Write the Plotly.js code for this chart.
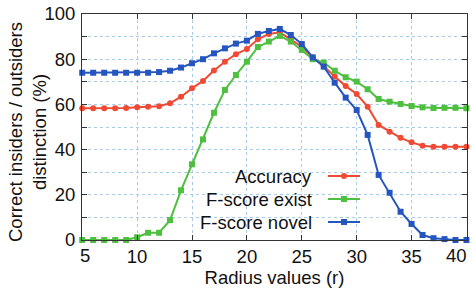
<!DOCTYPE html>
<html><head><meta charset="utf-8">
<script src="https://cdn.plot.ly/plotly-3.0.1.min.js"></script>
<style>html,body{margin:0;padding:0;background:#fff}#c{width:472px;height:293px}</style>
</head><body><div id="c"></div>
<script>
const radius = [5,6,7,8,9,10,11,12,13,14,15,16,17,18,19,20,21,22,23,24,25,26,27,28,29,30,31,32,33,34,35,36,37,38,39,40];
const accuracy = [58.3,58.3,58.3,58.3,58.4,58.7,59,59.2,60.5,63.4,67.1,70.4,75,78.9,82.2,84.5,88.8,91.2,91.9,88.8,85.5,80.8,77,72.3,68.1,64.6,59,50.9,47.9,45.2,43.2,41.7,41.3,41.3,41.3,41.3];
const fscoreExist = [0,0,0,0,0,1.2,3.2,3.2,8.8,22,33.5,44.5,56.3,66.4,73,78.9,85.4,87.8,90.3,87.8,84.1,80,78.5,74.9,72,70.1,66.7,62.4,61.2,60.2,59.3,58.7,58.4,58.5,58.5,58.3];
const fscoreNovel = [74,74,74,74,74,74,74,74.3,74.9,76.3,78.2,80,82.6,84.8,86.9,88.2,91.2,92.5,93.4,90.7,86.7,80.8,76.7,69.6,63,57.5,46.5,28.8,20.9,12.5,7.1,2.2,0.8,0.4,0,0];
const seriesNames = ["Accuracy","F-score exist","F-score novel"];
const xTicks = [5,10,15,20,25,30,35,40];
const xTickLabels = ["5","10","15","20","25","30","35","40"];
const yTicks = [0,20,40,60,80,100];
const xTitle = "Radius values (r)";
const yTitle = "Correct insiders / outsiders<br>distinction (%)";

const colors = ["#f04a35","#4fbf3f","#2556c0"];
const symbols = ["circle","square","square"];
const ys = [accuracy, fscoreExist, fscoreNovel];
const traces = ys.map((y,i)=>({
  x: radius, y: y, type: "scatter", mode: "lines+markers", name: seriesNames[i],
  line: {color: colors[i], width: 2},
  marker: {color: colors[i], symbol: symbols[i], size: 6},
  cliponaxis: false, showlegend: false
}));

const font = {family: "Liberation Sans, Arial, sans-serif", size: 18.5, color: "#111"};
const axisCommon = {
  showline: true, linecolor: "#333", linewidth: 1, mirror: "ticks",
  ticks: "inside", ticklen: 5, tickcolor: "#333",
  showgrid: true, gridcolor: "#a9cbe3", griddash: "dot", gridwidth: 1,
  zeroline: false, tickfont: font
};

const L = 82, R = 5, T = 14, B = 53, W = 472, H = 293;
const pw = W - L - R, ph = H - T - B;
const px = v => (v - L) / pw;
const py = v => (H - B - v) / ph;

// x tick labels: inner ones by the axis, the two end ones nudged inward as in the reference
const endShift = {0: 3, 7: -10};
const shownTickText = xTickLabels.map((t,i)=> (i in endShift) ? "" : t);
const annotations = [];
Object.keys(endShift).forEach(k=>{
  const i = +k;
  annotations.push({xref: "x", yref: "paper", x: xTicks[i], y: py(255), xanchor: "center", yanchor: "middle",
    xshift: endShift[i], text: xTickLabels[i], showarrow: false, font: font});
});

// manual legend (text right-aligned, sample to the right)
const legRows = [py(176), py(199), py(222)];
seriesNames.forEach((n,i)=>annotations.push({
  xref: "paper", yref: "paper", x: px(314), y: legRows[i], xanchor: "right", yanchor: "middle",
  text: n, showarrow: false, font: font
}));
annotations.push({
  xref: "paper", yref: "paper", x: px(27.5), y: py(132.5), xanchor: "center", yanchor: "middle",
  text: yTitle, textangle: -90, showarrow: false, font: font, align: "center"
});
const shapes = [];
legRows.forEach((yy,i)=>{
  shapes.push({type: "line", xref: "paper", yref: "paper", x0: px(328), x1: px(360), y0: yy, y1: yy,
    line: {color: colors[i], width: 2}});
  shapes.push({type: symbols[i]==="circle" ? "circle" : "rect", xref: "paper", yref: "paper",
    xsizemode: "pixel", ysizemode: "pixel", xanchor: px(344), yanchor: yy,
    x0: -3, x1: 3, y0: -3, y1: 3, fillcolor: colors[i], line: {width: 0}});
});

const layout = {
  width: W, height: H,
  margin: {l: L, r: R, t: T, b: B},
  paper_bgcolor: "#fff", plot_bgcolor: "#fff",
  font: font,
  xaxis: Object.assign({}, axisCommon, {
    range: [4.98, 40.05], tickvals: xTicks, ticktext: shownTickText,
    title: {text: xTitle, font: font, standoff: 4}
  }),
  yaxis: Object.assign({}, axisCommon, {
    range: [0, 100], tickvals: yTicks, ticktext: yTicks.map(String),
    minor: {dtick: 10, tick0: 0, ticks: "inside", ticklen: 5, tickcolor: "#333", showgrid: true, gridcolor: "#a9cbe3", griddash: "dot"},
    ticklabelstandoff: 2
  }),
  annotations: annotations, shapes: shapes, showlegend: false
};
Plotly.newPlot("c", traces, layout, {displayModeBar: false, staticPlot: true});
</script></body></html>
